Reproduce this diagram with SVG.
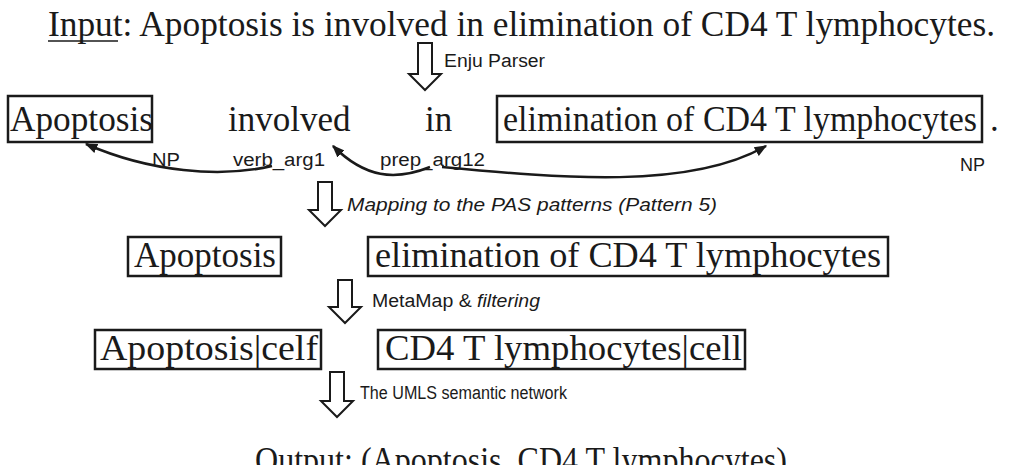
<svg xmlns="http://www.w3.org/2000/svg" width="1030" height="465" viewBox="0 0 1030 465">
<defs>
<style>
.big{font-family:"Liberation Serif","Times New Roman",serif;font-size:35px;fill:#1a1a1a}
.lbl{font-family:"Liberation Sans",Arial,sans-serif;font-size:18px;fill:#1a1a1a}
.it{font-style:italic}
.box{fill:none;stroke:#1a1a1a;stroke-width:2.5}
.blk{fill:#fff;stroke:#1a1a1a;stroke-width:2;stroke-linejoin:miter}
.conn{fill:none;stroke:#1a1a1a;stroke-width:2.5}
</style>
<marker id="ah" viewBox="0 0 10 10" refX="9" refY="5" markerWidth="5" markerHeight="5" orient="auto" markerUnits="strokeWidth">
<path d="M0,1 L10,5 L0,9 z" fill="#1a1a1a"/>
</marker>
</defs>
<rect width="1030" height="465" fill="#fff"/>

<g id="input">
<text class="big" x="48" y="36" textLength="947" lengthAdjust="spacingAndGlyphs">Input: Apoptosis is involved in elimination of CD4 T lymphocytes.</text>
<line x1="48" y1="41" x2="118" y2="41" stroke="#1a1a1a" stroke-width="1.5"/>
</g>

<g id="arrow-enju">
<path class="blk" d="M418,43 H432 V74 H441 L425,90 L409,74 H418 Z"/>
<text class="lbl" x="444" y="67" textLength="101" lengthAdjust="spacingAndGlyphs">Enju Parser</text>
</g>

<g id="parse-apoptosis">
<rect class="box" x="8" y="96" width="144" height="46"/>
<text class="big" x="10" y="131" textLength="143" lengthAdjust="spacingAndGlyphs">Apoptosis</text>
</g>
<g id="parse-involved"><text class="big" x="228" y="131">involved</text></g>
<g id="parse-in"><text class="big" x="425" y="131">in</text></g>
<g id="parse-elimination">
<rect class="box" x="497" y="96" width="485" height="46"/>
<text class="big" x="503" y="131" textLength="474" lengthAdjust="spacingAndGlyphs">elimination of CD4 T lymphocytes</text>
</g>
<g id="parse-period"><text class="big" x="990" y="131">.</text></g>

<g id="connectors">
<path class="conn" marker-end="url(#ah)" d="M272,166 C220,178 150,172 86,144"/>
<path class="conn" marker-end="url(#ah)" d="M430,167 C395,181 365,178 333,146"/>
<path class="conn" marker-end="url(#ah)" d="M442,167 C560,178 690,190 766,146"/>
</g>

<g id="labels">
<text class="lbl" x="152" y="166" textLength="28" lengthAdjust="spacingAndGlyphs">NP</text>
<text class="lbl" x="233" y="166" textLength="92" lengthAdjust="spacingAndGlyphs">verb_arg1</text>
<text class="lbl" x="380" y="166" textLength="105" lengthAdjust="spacingAndGlyphs">prep_arg12</text>
<text class="lbl" x="960" y="171" textLength="25" lengthAdjust="spacingAndGlyphs">NP</text>
</g>

<g id="arrow-mapping">
<path class="blk" d="M318,182 H332 V210 H341 L325,226 L309,210 H318 Z"/>
<text class="lbl it" x="347" y="211" textLength="370" lengthAdjust="spacingAndGlyphs">Mapping to the PAS patterns (Pattern 5)</text>
</g>

<g id="pas-apoptosis">
<rect class="box" x="128" y="237" width="153" height="39"/>
<text class="big" x="134" y="267" textLength="142" lengthAdjust="spacingAndGlyphs">Apoptosis</text>
</g>
<g id="pas-elimination">
<rect class="box" x="368" y="237" width="520" height="39"/>
<text class="big" x="375" y="267" textLength="506" lengthAdjust="spacingAndGlyphs">elimination of CD4 T lymphocytes</text>
</g>

<g id="arrow-metamap">
<path class="blk" d="M338,280 H352 V307 H361 L345,323 L329,307 H338 Z"/>
<text class="lbl" x="372" y="307" textLength="168" lengthAdjust="spacingAndGlyphs">MetaMap &amp; <tspan class="it">filtering</tspan></text>
</g>

<g id="mm-apoptosis">
<rect class="box" x="95" y="330" width="226" height="39"/>
<text class="big" x="100" y="360" textLength="218" lengthAdjust="spacingAndGlyphs">Apoptosis|celf</text>
</g>
<g id="mm-cd4">
<rect class="box" x="378" y="330" width="367" height="39"/>
<text class="big" x="385" y="360" textLength="357" lengthAdjust="spacingAndGlyphs">CD4 T lymphocytes|cell</text>
</g>

<g id="arrow-umls">
<path class="blk" d="M330,372 H344 V401 H353 L337,417 L321,401 H330 Z"/>
<text class="lbl" x="360" y="399" textLength="207" lengthAdjust="spacingAndGlyphs">The UMLS semantic network</text>
</g>

<g id="output">
<text class="big" x="255" y="472" textLength="532" lengthAdjust="spacingAndGlyphs">Output: (Apoptosis, CD4 T lymphocytes)</text>
</g>
</svg>
